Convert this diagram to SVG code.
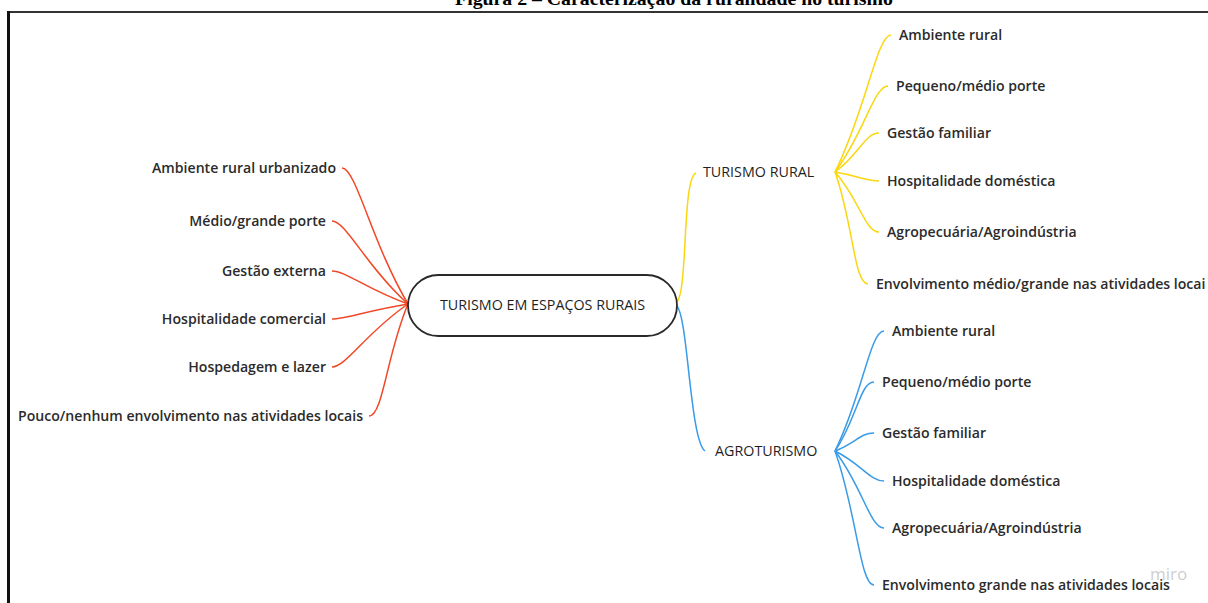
<svg xmlns="http://www.w3.org/2000/svg" width="1208" height="603" viewBox="0 0 1208 603">
<style>
.t{font-family:"Open Sans","Liberation Sans",sans-serif;font-size:14.1px;font-weight:600;fill:#2b2b2b}
.b{font-family:"Open Sans","Liberation Sans",sans-serif;font-size:14.3px;font-weight:500;fill:#1f1f1f}
.r{fill:none;stroke:#f24726;stroke-width:1.5}
.y{fill:none;stroke:#fad70f;stroke-width:1.5}
.u{fill:none;stroke:#3a9be6;stroke-width:1.5}
</style>
<rect width="1208" height="603" fill="#fff"/>
<text x="674" y="5" text-anchor="middle" font-family="Liberation Serif, serif" font-weight="bold" font-size="19.8" fill="#000">Figura 2 – Caracterização da ruralidade no turismo</text>
<line x1="7" y1="12" x2="1208" y2="12" stroke="#333" stroke-width="2"/>
<line x1="8.5" y1="11" x2="8.5" y2="603" stroke="#111" stroke-width="3"/>
<g id="connectors">
<path class="r" d="M342 168 C356 168 371.7 242.8 408 304"/>
<path class="r" d="M332 221 C346 221 366.2 266.6 408 304"/>
<path class="r" d="M332 271 C346 271 366.2 289.2 408 304"/>
<path class="r" d="M332 319 C346 319 366.2 310.8 408 304"/>
<path class="r" d="M332 367 C346 367 366.2 332.4 408 304"/>
<path class="r" d="M369 416 C383 416 386.6 354.4 408 304"/>
<path class="y" d="M677 302 C688 290 682 178 696 173"/>
<path class="u" d="M677 306 C688 318 690 440 705 451"/>
<path class="y" d="M835 172 C865.8 110.3 877 35 891 35"/>
<path class="y" d="M835 172 C864.1 133.3 874 86 888 86"/>
<path class="y" d="M835 172 C859.2 154.4 865 133 879 133"/>
<path class="y" d="M835 172 C859.2 176.1 865 181 879 181"/>
<path class="y" d="M835 172 C859.2 199 865 232 879 232"/>
<path class="y" d="M835 172 C853.1 222.4 854 284 868 284"/>
<path class="u" d="M835 451 C862 397 870 331 884 331"/>
<path class="u" d="M835 451 C856.4 420 860 382 874 382"/>
<path class="u" d="M835 451 C856.4 442.9 860 433 874 433"/>
<path class="u" d="M835 451 C862 464.5 870 481 884 481"/>
<path class="u" d="M835 451 C862 485.7 870 528 884 528"/>
<path class="u" d="M835 451 C856.4 511.3 860 585 874 585"/>
</g>
<g id="root">
<rect x="408" y="275" width="269" height="61" rx="30.5" fill="#fff" stroke="#2a2a2a" stroke-width="1.8"/>
<text class="b" x="542.5" y="310" text-anchor="middle">TURISMO EM ESPAÇOS RURAIS</text>
</g>
<g id="left-1"><text class="t" x="336" y="173" text-anchor="end">Ambiente rural urbanizado</text></g>
<g id="left-2"><text class="t" x="326" y="226" text-anchor="end">Médio/grande porte</text></g>
<g id="left-3"><text class="t" x="326" y="276" text-anchor="end">Gestão externa</text></g>
<g id="left-4"><text class="t" x="326" y="324" text-anchor="end">Hospitalidade comercial</text></g>
<g id="left-5"><text class="t" x="326" y="372" text-anchor="end">Hospedagem e lazer</text></g>
<g id="left-6"><text class="t" x="363" y="421" text-anchor="end">Pouco/nenhum envolvimento nas atividades locais</text></g>
<g id="turismo-rural"><text class="b" x="703" y="177">TURISMO RURAL</text></g>
<g id="tr-1"><text class="t" x="899" y="40">Ambiente rural</text></g>
<g id="tr-2"><text class="t" x="896" y="91">Pequeno/médio porte</text></g>
<g id="tr-3"><text class="t" x="887" y="138">Gestão familiar</text></g>
<g id="tr-4"><text class="t" x="887" y="186">Hospitalidade doméstica</text></g>
<g id="tr-5"><text class="t" x="887" y="237">Agropecuária/Agroindústria</text></g>
<g id="tr-6"><text class="t" x="876" y="289">Envolvimento médio/grande nas atividades locai</text></g>
<g id="agroturismo"><text class="b" x="715" y="456">AGROTURISMO</text></g>
<g id="ag-1"><text class="t" x="892" y="336">Ambiente rural</text></g>
<g id="ag-2"><text class="t" x="882" y="387">Pequeno/médio porte</text></g>
<g id="ag-3"><text class="t" x="882" y="438">Gestão familiar</text></g>
<g id="ag-4"><text class="t" x="892" y="486">Hospitalidade doméstica</text></g>
<g id="ag-5"><text class="t" x="892" y="533">Agropecuária/Agroindústria</text></g>
<g id="ag-6"><text class="t" x="882" y="590">Envolvimento grande nas atividades locais</text></g>
<text x="1150" y="580" font-family="Open Sans, Liberation Sans, sans-serif" font-size="17" fill="#cfcfcf">miro</text>
</svg>
